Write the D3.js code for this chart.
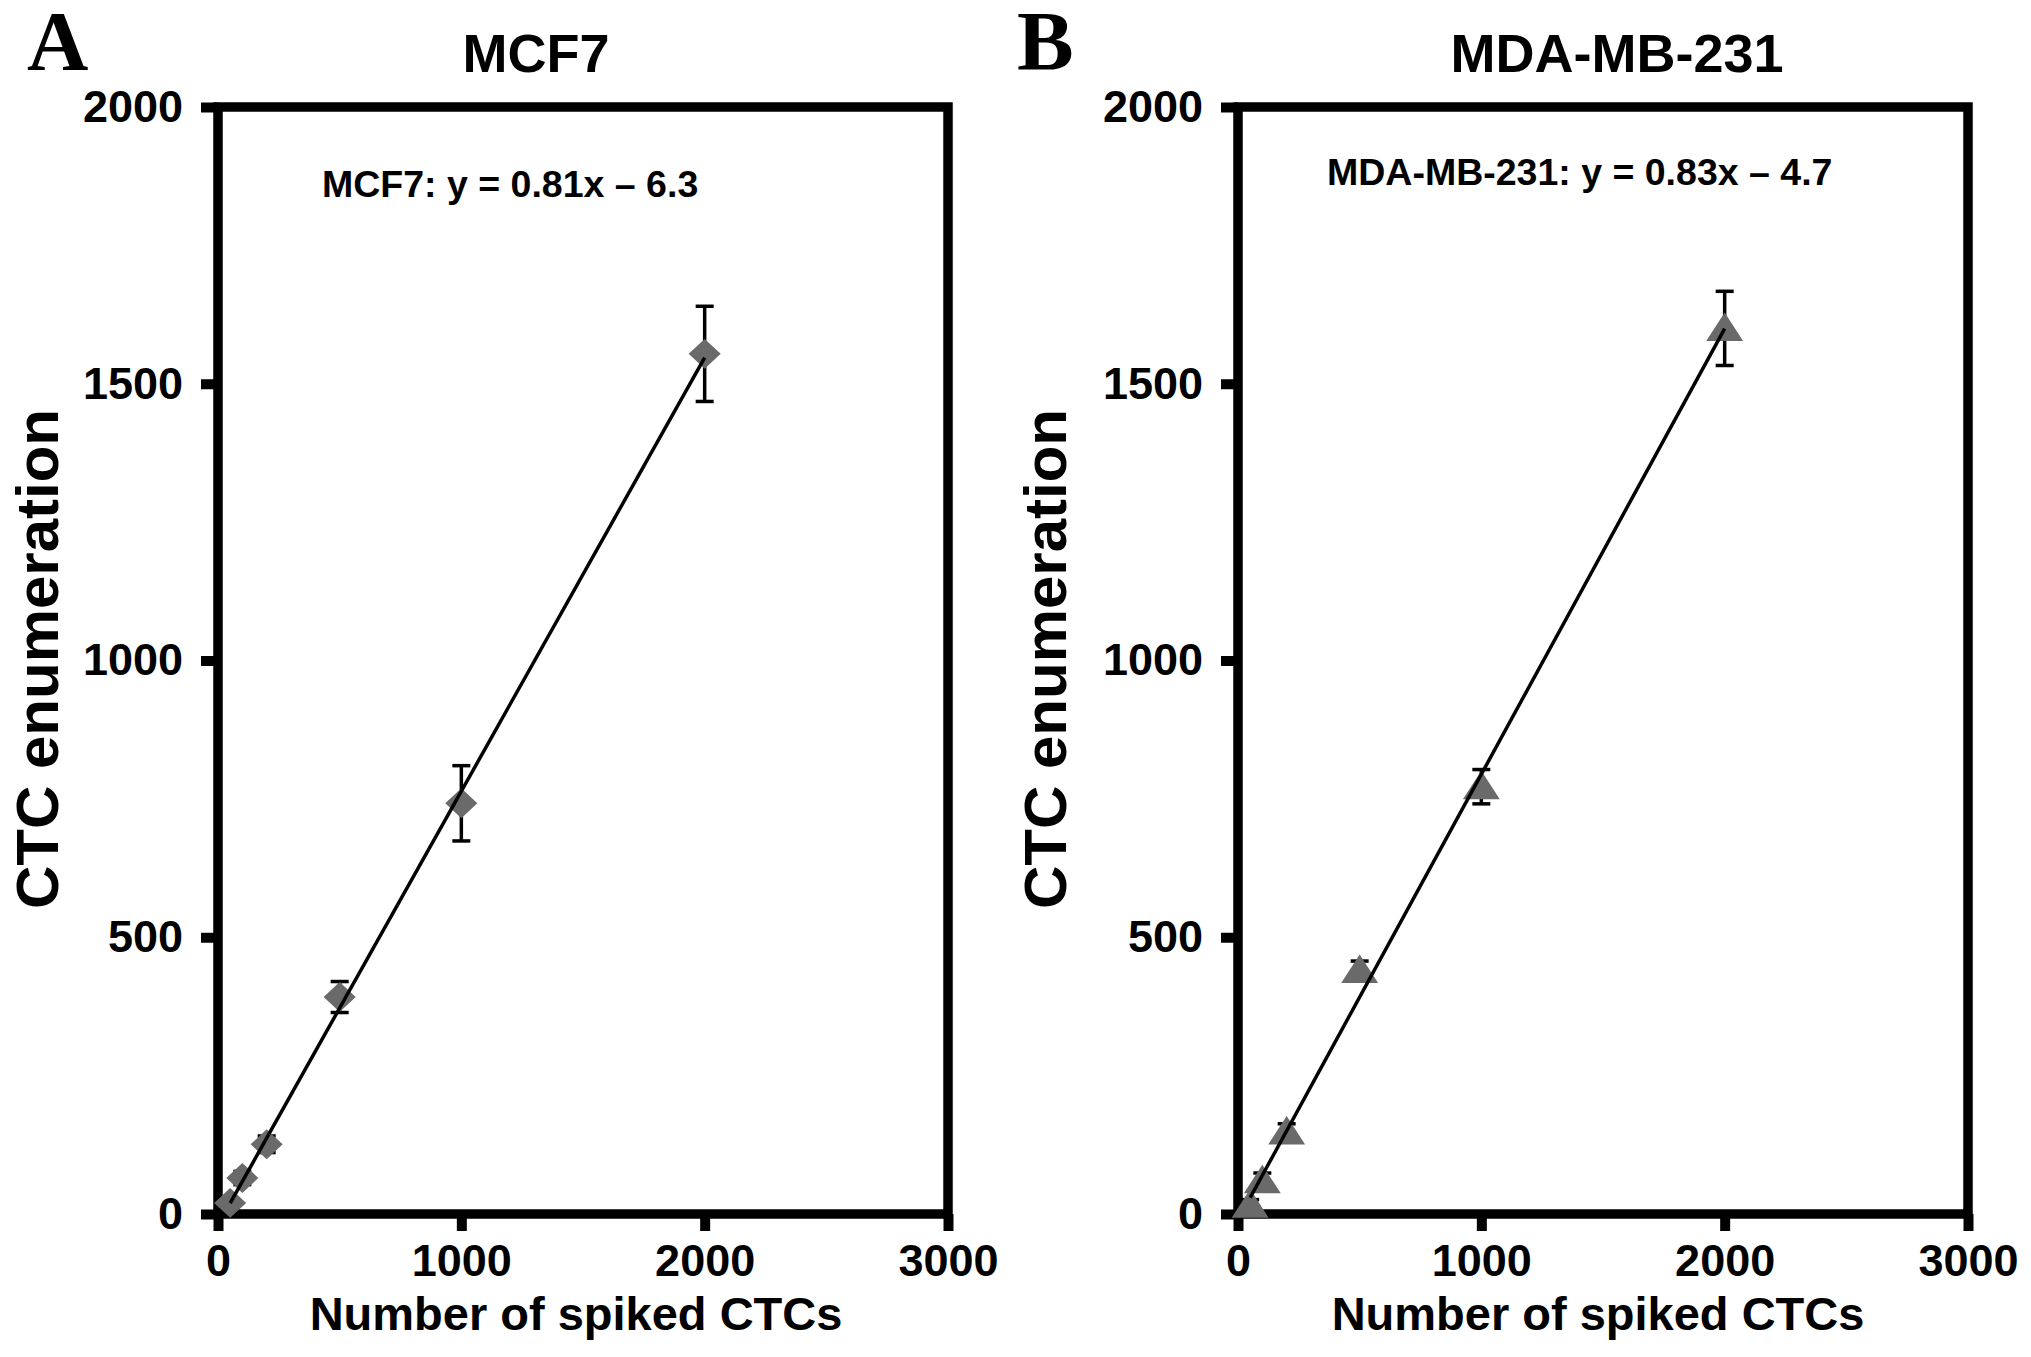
<!DOCTYPE html>
<html>
<head>
<meta charset="utf-8">
<script src="https://cdn.jsdelivr.net/npm/d3@7"></script>
<style>
  html, body { margin: 0; padding: 0; background: #fff; }
  svg { display: block; }
</style>
</head>
<body>
<svg id="chart" width="2031" height="1357"></svg>
<script>
// ---- Data ----
const spikedCTCs = [50, 100, 200, 500, 1000, 2000];
const mcf7Mean = [20, 65, 126, 392, 742, 1554];
const mcf7Err  = [8, 12, 15, 28, 68, 86];
const mdaMean  = [16, 60, 148, 440, 772, 1600];
const mdaErr   = [10, 14, 15, 17, 31, 67];
const xTicks = [0, 1000, 2000, 3000];
const yTicks = [0, 500, 1000, 1500, 2000];
const panelLetters = ["A", "B"];
const panelTitles = ["MCF7", "MDA-MB-231"];
const equations = ["MCF7: y = 0.81x \u2013 6.3", "MDA-MB-231: y = 0.83x \u2013 4.7"];
const xAxisTitle = "Number of spiked CTCs";
const yAxisTitle = "CTC enumeration";

(function () {
const svg = d3.select("#chart");
const SANS = "'Liberation Sans', Arial, sans-serif";
const SERIF = "'Liberation Serif', 'Times New Roman', serif";
const GRAY = "#6a6a6a";

const panels = [
  { left: 218, right: 948, letterX: 27, titleX: 536, yTitleX: 58, eqX: 322, eqY: 197, xTitleX: 576,
    mean: mcf7Mean, err: mcf7Err, marker: "diamond" },
  { left: 1238, right: 1968, letterX: 1017, titleX: 1617, yTitleX: 1066, eqX: 1327, eqY: 185, xTitleX: 1598,
    mean: mdaMean, err: mdaErr, marker: "triangle" }
];
const plotTop = 107, plotBottom = 1214;

function regression(xs, ys) {
  const n = xs.length;
  const mx = d3.mean(xs), my = d3.mean(ys);
  let sxy = 0, sxx = 0;
  for (let i = 0; i < n; i++) { sxy += (xs[i]-mx)*(ys[i]-my); sxx += (xs[i]-mx)**2; }
  const slope = sxy / sxx;
  return { slope, intercept: my - slope * mx };
}

panels.forEach((p, pi) => {
  const x = d3.scaleLinear().domain([0, 3000]).range([p.left, p.right]);
  const y = d3.scaleLinear().domain([0, 2000]).range([plotBottom, plotTop]);
  const g = svg.append("g");

  // panel letter
  g.append("text").attr("x", p.letterX).attr("y", 70)
    .attr("font-family", SERIF).attr("font-weight", "bold").attr("font-size", 85)
    .text(panelLetters[pi]);

  // title
  g.append("text").attr("x", p.titleX).attr("y", 72).attr("text-anchor", "middle")
    .attr("font-family", SANS).attr("font-weight", "bold").attr("font-size", 54)
    .text(panelTitles[pi]);

  // frame
  g.append("rect").attr("x", p.left).attr("y", plotTop)
    .attr("width", p.right - p.left).attr("height", plotBottom - plotTop)
    .attr("fill", "none").attr("stroke", "#000").attr("stroke-width", 9.5);

  // axes
  const yAxis = d3.axisLeft(y).tickValues(yTicks).tickSize(17).tickPadding(18).tickFormat(d3.format("d"));
  const xAxis = d3.axisBottom(x).tickValues(xTicks).tickSize(17).tickPadding(13).tickFormat(d3.format("d"));
  const ya = g.append("g").attr("transform", `translate(${p.left},0)`).call(yAxis);
  const xa = g.append("g").attr("transform", `translate(0,${plotBottom})`).call(xAxis);
  [ya, xa].forEach(a => {
    a.select(".domain").remove();
    a.selectAll(".tick line").attr("stroke", "#000").attr("stroke-width", 10);
    a.selectAll(".tick text").attr("font-family", SANS).attr("font-weight", "bold")
      .attr("font-size", 45).attr("fill", "#000");
  });

  // equation
  g.append("text").attr("x", p.eqX).attr("y", p.eqY)
    .attr("font-family", SANS).attr("font-weight", "bold").attr("font-size", 37.5)
    .text(equations[pi]);

  // axis titles
  g.append("text").attr("transform", `translate(${p.yTitleX},659) rotate(-90)`)
    .attr("text-anchor", "middle").attr("font-family", SANS).attr("font-weight", "bold")
    .attr("font-size", 60).text(yAxisTitle);
  g.append("text").attr("x", p.xTitleX).attr("y", 1330).attr("text-anchor", "middle")
    .attr("font-family", SANS).attr("font-weight", "bold").attr("font-size", 47)
    .text(xAxisTitle);

  const data = spikedCTCs.map((v, i) => ({ x: v, y: p.mean[i], e: p.err[i] }));

  // error bars
  const eb = g.append("g").attr("stroke", "#000").attr("stroke-width", 3.5);
  data.forEach(d => {
    const cx = x(d.x), y1 = y(d.y + d.e), y2 = y(d.y - d.e);
    eb.append("line").attr("x1", cx).attr("x2", cx).attr("y1", y1).attr("y2", y2);
    eb.append("line").attr("x1", cx - 9).attr("x2", cx + 9).attr("y1", y1).attr("y2", y1);
    eb.append("line").attr("x1", cx - 9).attr("x2", cx + 9).attr("y1", y2).attr("y2", y2);
  });

  // markers
  const isTri = p.marker === "triangle";
  const sym = isTri
    ? d3.symbol().type(d3.symbolTriangle).size(470)
    : d3.symbol().type(d3.symbolSquare).size(484);
  g.append("g").selectAll("path").data(data).join("path")
    .attr("transform", d => isTri
      ? `translate(${x(d.x)},${y(d.y) + 3}) scale(1.12,1)`
      : `translate(${x(d.x)},${y(d.y)}) scale(1.03,0.96) rotate(45)`)
    .attr("d", sym)
    .attr("fill", GRAY);

  // regression line
  const r = regression(spikedCTCs, p.mean);
  const x0 = d3.min(spikedCTCs), x1 = d3.max(spikedCTCs);
  g.append("line")
    .attr("x1", x(x0)).attr("y1", y(r.slope * x0 + r.intercept))
    .attr("x2", x(x1)).attr("y2", y(r.slope * x1 + r.intercept))
    .attr("stroke", "#000").attr("stroke-width", 3.5);
});
})();
</script>
</body>
</html>
